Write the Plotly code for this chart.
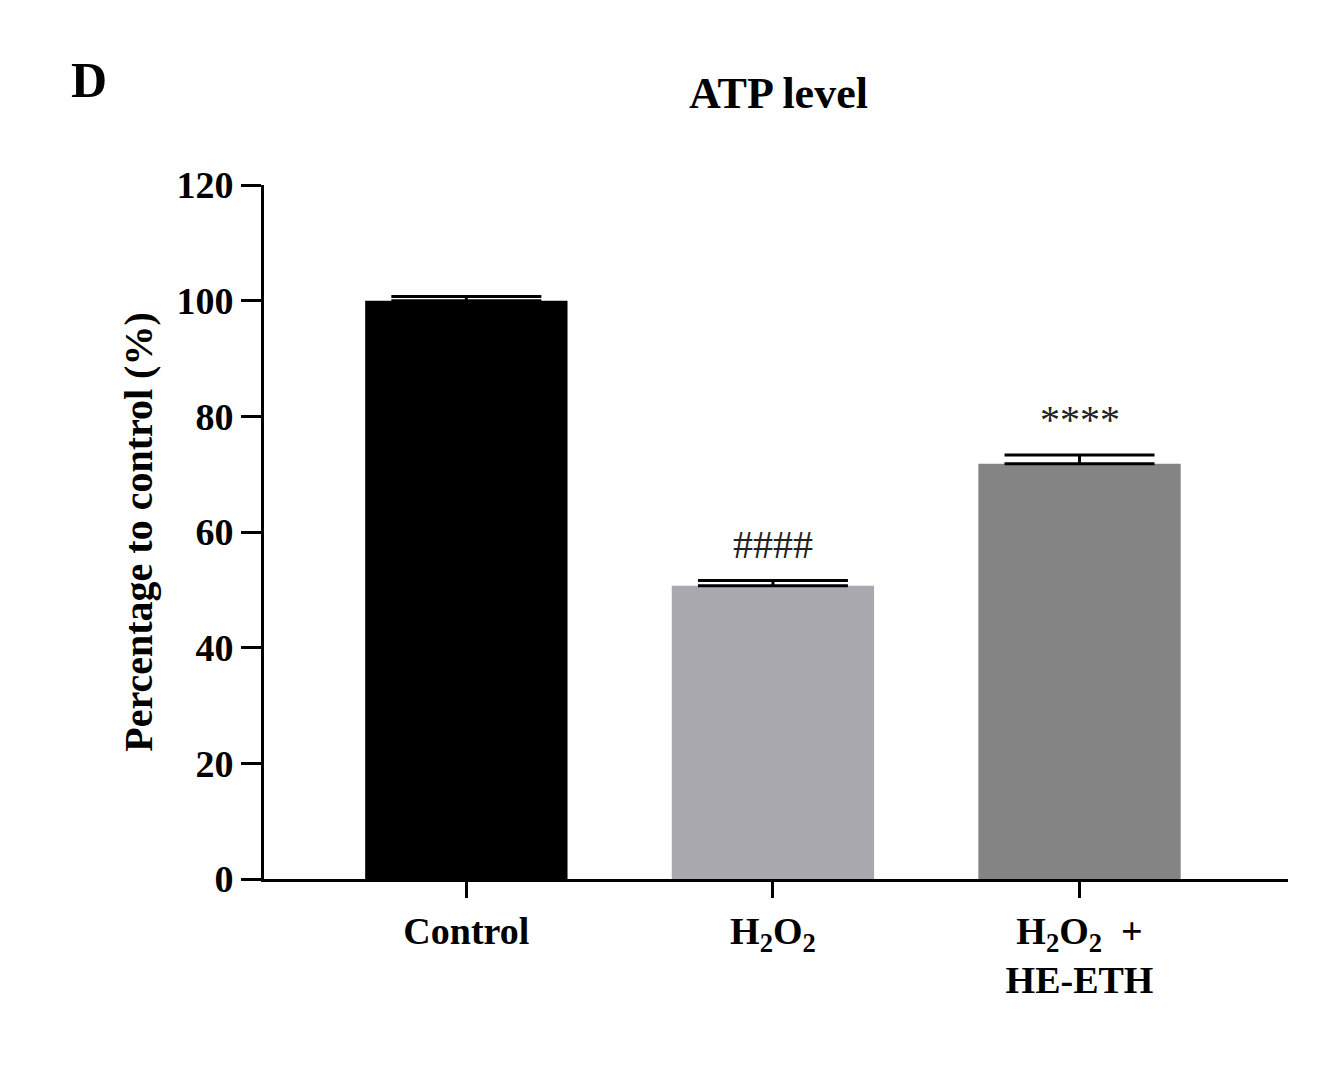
import plotly.graph_objects as go

categories = ["Control", "H<sub>2</sub>O<sub>2</sub>", "H<sub>2</sub>O<sub>2</sub>  +<br>HE-ETH"]
values = [100, 50.7, 71.8]
errors = [0.7, 0.9, 1.5]
signif = ["", "####", "****"]
colors = ["#000000", "#a8a8ae", "#848484"]

font = "Liberation Serif"
fig = go.Figure()
fig.add_trace(go.Bar(
    x=[0, 1, 2], y=values, width=0.66, marker=dict(color=colors, line=dict(width=0)),
    error_y=dict(type="data", array=errors, arrayminus=[0, 0, 0], symmetric=False,
                 color="black", thickness=3, width=75),
))
for i, (v, e, s) in enumerate(zip(values, errors, signif)):
    if s:
        fig.add_annotation(x=i, y=v + e + 2, text=s, showarrow=False, yanchor="bottom",
                           font=dict(family=font, size=40, color="#222"))
fig.add_annotation(xref="paper", yref="paper", x=-0.19, y=1.195, text="<b>D</b>", showarrow=False,
                   font=dict(family=font, size=50, color="black"))
fig.update_layout(
    width=1340, height=1072, plot_bgcolor="white", paper_bgcolor="white",
    margin=dict(l=256, r=60, t=177, b=201), showlegend=False,
    title=dict(text="<b>ATP level</b>", x=0.575, xanchor="center", y=0.935,
               font=dict(family=font, size=44, color="black")),
    xaxis=dict(range=[-0.66, 2.68], tickvals=[0, 1, 2], ticktext=["<b>"+c+"</b>" for c in categories],
               showline=True, linecolor="black", linewidth=3, ticks="outside", ticklen=16,
               tickwidth=3, tickcolor="black", showgrid=False,
               tickfont=dict(family=font, size=38, color="black")),
    yaxis=dict(range=[0, 120], dtick=20, showline=True, linecolor="black", linewidth=3,
               ticks="outside", ticklen=20, tickwidth=3, tickcolor="black", showgrid=False,
               zeroline=False, tickformat="d", tickprefix="<b>", ticksuffix="</b>",
               tickfont=dict(family=font, size=38, color="black"),
               title=dict(text="<b>Percentage to control (%)</b>", standoff=12,
                          font=dict(family=font, size=40, color="black"))),
)
fig.write_html("out.html")
